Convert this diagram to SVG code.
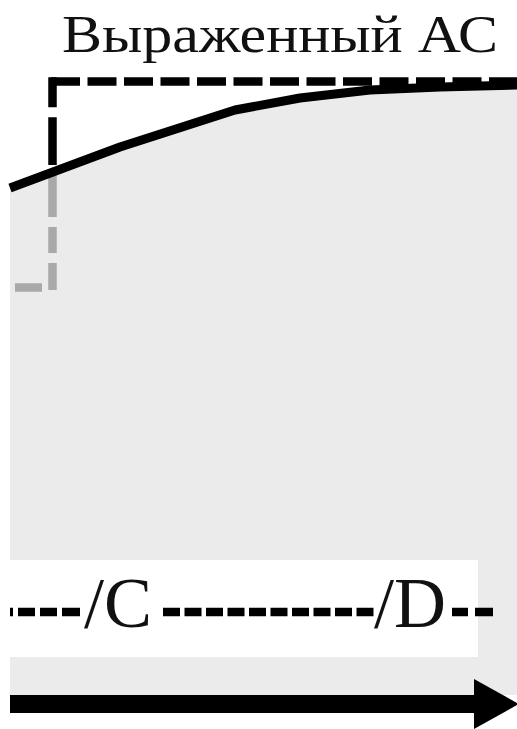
<svg xmlns="http://www.w3.org/2000/svg" width="517" height="729" viewBox="0 0 517 729">
  <style>
    .lbl { font-family: "Liberation Serif", "Times New Roman", serif; fill: #111; }
    .dashBlack { stroke: #000; stroke-width: 8.5; fill: none; }
    .dashGrey { stroke: #a9a9a9; stroke-width: 8.5; fill: none; }
  </style>
  <rect x="0" y="0" width="517" height="729" fill="#ffffff"/>
  <g id="area">
    <path d="M10,188 L120,147 L235,110 L300,98 L370,90 L440,87 L517,85 L517,695 L10,695 Z" fill="#ebebeb"/>
  </g>
  <g id="title">
    <text class="lbl" x="62" y="52" font-size="53" textLength="436" lengthAdjust="spacingAndGlyphs">Выраженный АС</text>
  </g>
  <g id="connectors">
    <line class="dashBlack" x1="51" y1="81.5" x2="517" y2="81.5" stroke-dasharray="29 7.5"/>
    <line class="dashBlack" x1="52.5" y1="77.25" x2="52.5" y2="165" stroke-dasharray="30 10 48 100"/>
    <line class="dashGrey" x1="52.5" y1="175" x2="52.5" y2="290" stroke-dasharray="42 10 26 10 27 100"/>
    <line class="dashGrey" x1="15" y1="287.5" x2="42" y2="287.5"/>
    <polyline points="10,188 120,147 235,110 300,98 370,90 440,87 517,85" fill="none" stroke="#000" stroke-width="9" stroke-linejoin="round"/>
  </g>
  <g id="scale">
    <rect x="10" y="560" width="468" height="97" fill="#ffffff"/>
    <line class="dashBlack" x1="10" y1="612" x2="80" y2="612" stroke-dasharray="3 5 17 5 17 5 18 100"/>
    <line class="dashBlack" x1="163" y1="612" x2="374" y2="612" stroke-dasharray="17 4.5"/>
    <line class="dashBlack" x1="452" y1="612" x2="493" y2="612" stroke-dasharray="16 7 18 100"/>
    <text class="lbl" x="84" y="627" font-size="72">/C</text>
    <text class="lbl" x="374" y="627" font-size="72">/D</text>
  </g>
  <g id="axis">
    <rect x="10" y="695" width="466" height="18" fill="#000"/>
    <polygon points="474,679 474,729 519,704" fill="#000"/>
  </g>
</svg>
